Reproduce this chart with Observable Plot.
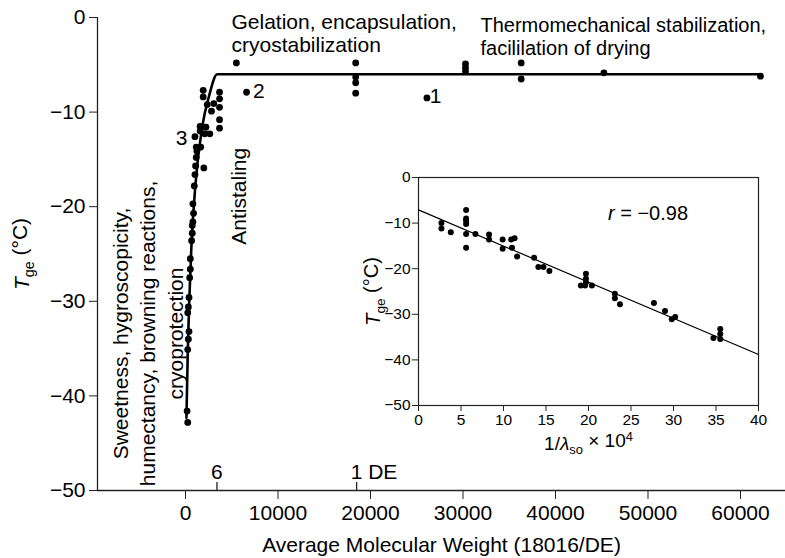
<!DOCTYPE html>
<html><head><meta charset="utf-8">
<script src="https://cdn.jsdelivr.net/npm/d3@7"></script>
<script src="https://cdn.jsdelivr.net/npm/@observablehq/plot@0.6"></script>
<style>
body{margin:0;background:#fff;}
#wrap{position:relative;width:785px;height:558px;overflow:hidden;}
#inset{position:absolute;left:340px;top:165px;}
svg{display:block}
</style></head><body><div id="wrap"><div id="main"></div><div id="inset"></div></div>
<script>
const FONT = "'Liberation Sans', Arial, Helvetica, sans-serif";

// ---- main chart data ----
const mainX = [170,240,240,310,380,240,310,380,450,520,520,660,730,730,800,870,800,950,1020,1090,1980,1160,1230,1160,1650,1020,1580,1580,2070,2210,2630,1910,1910,2350,2810,3060,3680,3680,3680,3680,3680,5500,6600,18400,18400,18400,18400,26100,30270,30270,30270,36290,36290,45230,62160];
const mainY = [-41.6,-42.8,-35.1,-34.0,-33.2,-31.2,-30.6,-29.6,-27.5,-26.6,-25.5,-23.6,-22.8,-22.0,-21.6,-20.7,-19.7,-17.8,-16.6,-15.7,-15.9,-14.8,-14.1,-13.7,-13.7,-12.6,-12.0,-11.5,-12.3,-11.6,-12.3,-7.7,-8.4,-9.2,-9.9,-9.1,-7.9,-8.6,-9.5,-10.8,-11.7,-4.8,-7.9,-4.8,-6.3,-6.9,-8.0,-8.5,-4.9,-5.3,-5.7,-4.8,-6.5,-5.85,-6.2];
const curveX = [100,250,650,1080,1800,2520,3430,62200];
const curveY = [-42.3,-35.2,-24.0,-17.6,-11.6,-8.4,-6.0,-6.0];
const xTicks = [0,10000,20000,30000,40000,50000,60000];
const yTicks = [0,-10,-20,-30,-40,-50];
const deTickX = [3400,18500];
const deTickLabels = ["6","1 DE"];
const pointLabels = ["3","2","1"];
const pointLabelX = [-430,7930,27030];
const pointLabelY = [-12.8,-7.8,-8.3];
const topNotes = ["Gelation, encapsulation,\ncryostabilization","Thermomechanical stabilization,\nfacililation of drying"];
const topNoteX = [4970,31890];
const topNoteY = [-1.64,-1.96];
const topNoteSize = [21,20];
const sideNotes = ["Sweetness, hygroscopicity,\nhumectancy, browning reactions,\ncryoprotection","Antistaling"];
const sideNoteX = [-4216,5620];
const sideNoteY = [-33.4,-18.9];
const xTitle = "Average Molecular Weight (18016/DE)";

// ---- inset data ----
const insetX = [2.7,2.7,3.8,5.6,5.6,5.6,5.6,5.6,5.6,6.7,8.3,8.3,9.9,9.9,10.9,11.3,11.0,11.6,13.6,14.1,14.7,15.4,19.1,19.6,19.7,19.7,19.7,20.4,23.1,23.1,23.7,27.7,29.0,29.8,30.2,34.7,35.5,35.5,35.5];
const insetY = [-10.0,-11.2,-12.0,-7.1,-9.0,-9.5,-10.2,-12.4,-15.4,-12.4,-12.5,-13.6,-13.6,-15.6,-13.6,-13.3,-15.4,-17.3,-17.6,-19.6,-19.6,-20.5,-23.7,-23.7,-21.1,-22.2,-23.0,-23.7,-25.5,-26.5,-27.8,-27.5,-29.3,-31.1,-30.6,-35.2,-33.2,-34.3,-35.4];
const fitX = [0,40];
const fitY = [-7.1,-38.8];
const insetXTicks = [0,5,10,15,20,25,30,35,40];
const insetYTicks = [0,-10,-20,-30,-40,-50];
const rLabel = "r = \u22120.98";
const rX = [27];
const rY = [-7.9];

const fmtY = d => d === 0 ? "0" : "\u2212" + Math.abs(d);

const FS = 21;
const X0 = -9514, X1 = 64865;
const mainPts = mainX.map((x,i)=>({x, y: mainY[i]}));
const curve = curveX.map((x,i)=>({x, y: curveY[i]}));

const main = Plot.plot({
  width:785, height:558, marginLeft:97, marginRight:0, marginTop:17, marginBottom:68,
  style:{fontFamily:FONT, fontSize:FS+"px", color:"#000", background:"white", overflow:"visible"},
  x:{domain:[X0,X1]}, y:{domain:[-50,0]},
  marks:[
    Plot.ruleY([-50], {stroke:"#222", strokeWidth:1.3}),
    Plot.ruleX([X0], {y1:-50, y2:0, stroke:"#222", strokeWidth:1.3}),
    Plot.axisX(xTicks, {tickSize:9, tickPadding:6, tickFormat:d=>String(d), fontSize:FS, label:null, stroke:"#222"}),
    Plot.axisY(yTicks, {tickSize:8, tickPadding:4, tickFormat:fmtY, fontSize:FS, label:null, stroke:"#222"}),
    Plot.ruleX(deTickX, {x:d=>d, y1:-50, y2:-50, insetTop:-8, stroke:"#222", strokeWidth:1.3}),
    Plot.text(deTickLabels, {x:(d,i)=>deTickX[i], y:-50, text:d=>d, dy:-18, dx:-6, textAnchor:"start", fontSize:FS}),
    Plot.line(curve, {x:"x", y:"y", curve:"monotone-x", stroke:"#000", strokeWidth:2.6}),
    Plot.dot(mainPts, {x:"x", y:"y", r:3.4, fill:"#000", stroke:"none"}),
    Plot.text(pointLabels, {x:(d,i)=>pointLabelX[i], y:(d,i)=>pointLabelY[i], text:d=>d, fontSize:FS, textAnchor:"middle"}),
    Plot.text(topNotes, {x:(d,i)=>topNoteX[i], y:(d,i)=>topNoteY[i], text:d=>d, fontSize:(d,i)=>topNoteSize[i], textAnchor:"start", lineHeight:1.13}),
    Plot.text(sideNotes, {x:(d,i)=>sideNoteX[i], y:(d,i)=>sideNoteY[i], text:d=>d, fontSize:FS, textAnchor:"middle", rotate:-90, lineHeight:1.3}),
    Plot.text([xTitle], {frameAnchor:"bottom", dy:55, lineAnchor:"middle", textAnchor:"middle", fontSize:FS}),
    Plot.text(["Tge (\u00b0C)"], {frameAnchor:"left", dx:-75, rotate:-90, textAnchor:"middle", lineAnchor:"middle", fontSize:FS})
  ]
});
document.getElementById("main").appendChild(main);

const insetPts = insetX.map((x,i)=>({x, y: insetY[i]}));
const fit = fitX.map((x,i)=>({x, y: fitY[i]}));
const inset = Plot.plot({
  width:445, height:285, marginLeft:78, marginRight:27, marginTop:12, marginBottom:45,
  style:{fontFamily:FONT, fontSize:"15px", color:"#000", background:"transparent", overflow:"visible", maxWidth:"none"},
  x:{domain:[0,40]}, y:{domain:[-50,0]},
  marks:[
    Plot.frame({stroke:"#222", strokeWidth:1.2}),
    Plot.axisX(insetXTicks, {tickSize:6, tickPadding:2, fontSize:15.5, label:null, stroke:"#222"}),
    Plot.axisY(insetYTicks, {tickSize:6, tickPadding:2, tickFormat:fmtY, fontSize:15.5, label:null, stroke:"#222"}),
    Plot.line(fit, {x:"x", y:"y", stroke:"#000", strokeWidth:1.2}),
    Plot.dot(insetPts, {x:"x", y:"y", r:3, fill:"#000", stroke:"none"}),
    Plot.text([rLabel], {x:(d,i)=>rX[i], y:(d,i)=>rY[i], text:d=>d, fontSize:20}),
    Plot.text(["Tge (\u00b0C)"], {frameAnchor:"left", dx:-45, rotate:-90, textAnchor:"middle", lineAnchor:"middle", fontSize:20}),
    Plot.text(["1/\u03bbso \u00d7 104"], {frameAnchor:"bottom", dy:38, lineAnchor:"middle", textAnchor:"middle", fontSize:19})
  ]
});
document.getElementById("inset").appendChild(inset);

function rich(svg, match, build){
  d3.select(svg).selectAll("text").filter(function(){ return this.textContent === match; })
    .each(function(){ const t = d3.select(this); t.text(""); build(t); });
}
const tge = t => {
  t.append("tspan").attr("font-style","italic").text("T");
  t.append("tspan").attr("font-size","0.68em").attr("dy","0.35em").text("ge");
  t.append("tspan").attr("dy","-0.35em").text(" (\u00b0C)");
};
rich(main, "Tge (\u00b0C)", tge);
rich(inset, "Tge (\u00b0C)", tge);
rich(inset, rLabel, t => {
  t.append("tspan").attr("font-style","italic").text("r");
  t.append("tspan").text(" = \u22120.98");
});
rich(inset, "1/\u03bbso \u00d7 104", t => {
  t.append("tspan").text("1/");
  t.append("tspan").attr("font-style","italic").text("\u03bb");
  t.append("tspan").attr("font-size","0.68em").attr("dy","0.35em").text("so");
  t.append("tspan").attr("dy","-0.35em").text(" \u00d7 10");
  t.append("tspan").attr("font-size","0.68em").attr("dy","-0.5em").text("4");
});
</script></body></html>
